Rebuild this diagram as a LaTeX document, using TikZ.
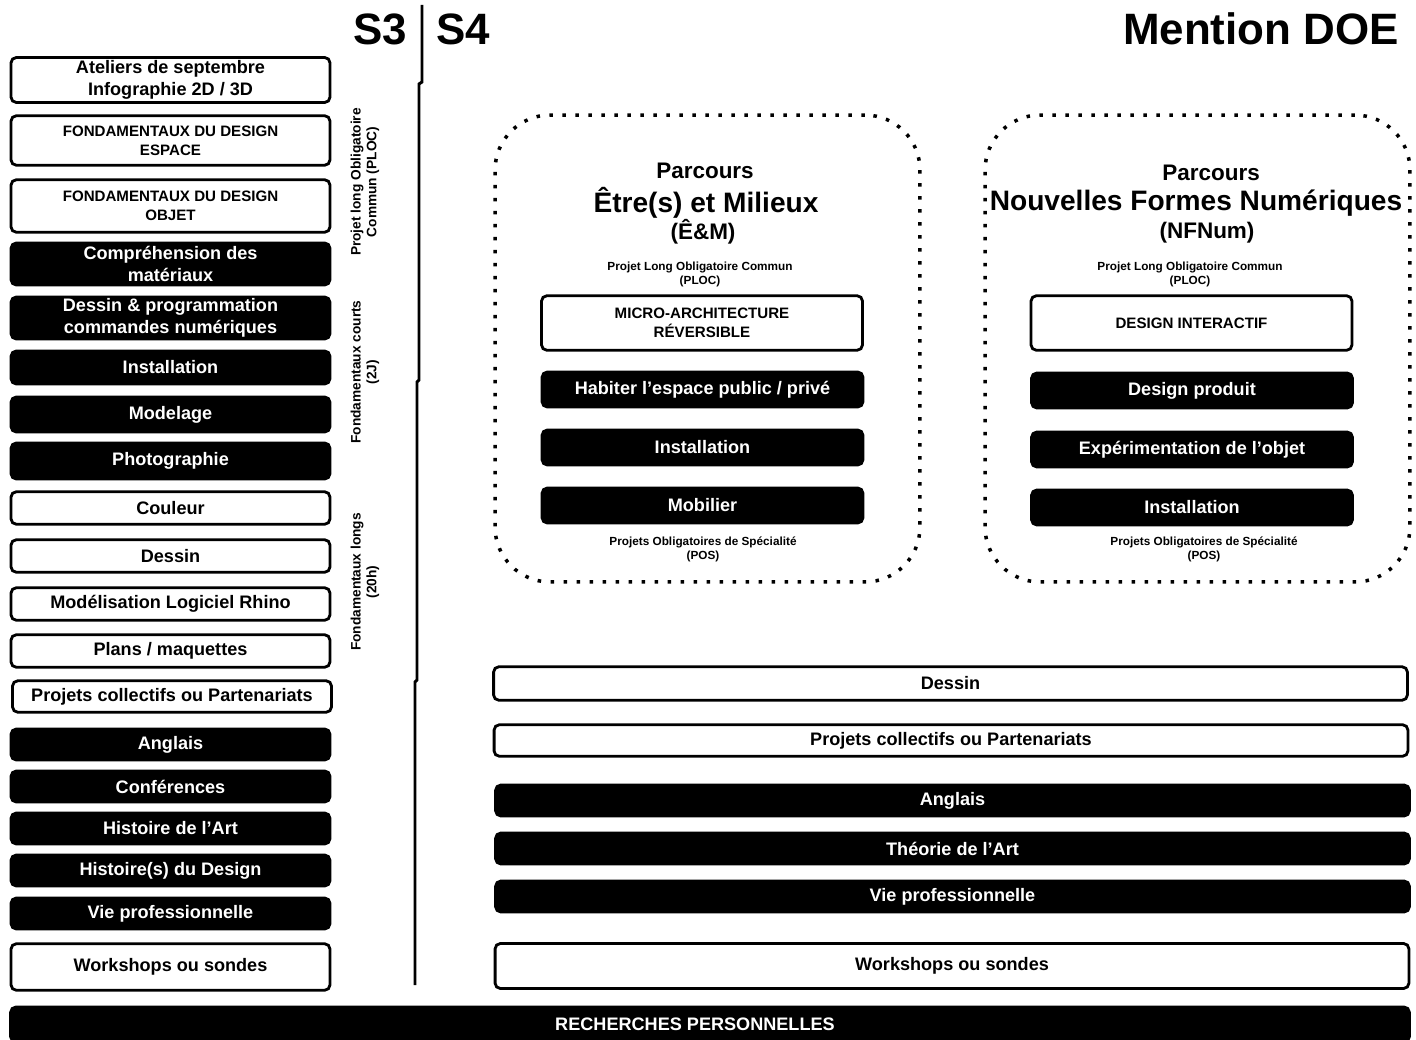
\documentclass[tikz,border=0pt]{standalone}
\usepackage{fontspec}
\setmainfont{Liberation Sans}

\begin{document}
\begin{tikzpicture} [x=0.02cm, y=-0.02cm,
    box/.style = {rounded corners=3pt, line width=1.6pt, align=center, inner sep=0pt,
                  font=\bfseries\fontsize{10.3}{12.2}\selectfont},
    openbox/.style = {box, draw, fill=white},
    fullbox/.style = {box, draw, fill=black, text=white},
    caps/.style = {font=\bfseries\fontsize{8.6}{10.8}\selectfont},
    left col/.style = {minimum width=6.38cm},
    track col/.style = {minimum width=6.42cm},
    wide col/.style = {minimum width=18.28cm},
    note/.style = {align=center, font=\bfseries\fontsize{6.7}{8}\selectfont},
    side/.style = {rotate=90, align=center, font=\bfseries\fontsize{7.8}{9}\selectfont},
    head/.style = {font=\bfseries\fontsize{25}{30}\selectfont},
    track/.style = {draw, line width=2pt, dash pattern=on 2pt off 5.4pt, rounded corners=1.1cm,
                    minimum width=8.5cm, minimum height=9.34cm},
    sub/.style = {font=\bfseries\fontsize{12.8}{15}\selectfont},
    big/.style = {font=\bfseries\fontsize{16}{18}\selectfont}]
        \useasboundingbox (0,0) rectangle (1416,1040);

        % en-tetes
        \node (s3) [head] at (380,29) {S3};
        \node (s4) [head] at (463,29) {S4};
        \node (doe) [head, anchor=east] at (1405,29) {Mention DOE};
        \draw [line width=1.7pt] (422,5) -- (422,82) -- (419,84) -- (419,380) -- (417,382)
              -- (417,680) -- (415,682) -- (415,985);

        % S3
        \node (atel) [openbox, left col, minimum height=0.9cm] at (170.5,80) {Ateliers de septembre\\Infographie 2D / 3D};
        \node (espace) [openbox, left col, caps, minimum height=0.99cm] at (170.5,140.5) {FONDAMENTAUX DU DESIGN\\ESPACE};
        \node (objet) [openbox, left col, caps, minimum height=1.05cm] at (170.5,206) {FONDAMENTAUX DU DESIGN\\OBJET};
        \node (mat) [fullbox, left col, minimum height=0.84cm] at (170.5,264) {Compréhension des\\matériaux};
        \node (prog) [fullbox, left col, minimum height=0.84cm] at (170.5,318) {Dessin \& programmation\\commandes numériques};
        \node (inst) [fullbox, left col, minimum height=0.66cm] at (170.5,367.5) {Installation};
        \node (mod) [fullbox, left col, minimum height=0.7cm] at (170.5,414.5) {Modelage};
        \node (photo) [fullbox, left col, minimum height=0.72cm] at (170.5,461) {Photographie};
        \node (coul) [openbox, left col, minimum height=0.65cm] at (170.5,508) {Couleur};
        \node (dess) [openbox, left col, minimum height=0.65cm] at (170.5,556) {Dessin};
        \node (rhino) [openbox, left col, minimum height=0.65cm] at (170.5,604) {Modélisation Logiciel Rhino};
        \node (plans) [openbox, left col, minimum height=0.65cm] at (170.5,651) {Plans / maquettes};
        \node (coll) [openbox, left col, minimum height=0.63cm] at (172,696.5) {Projets collectifs ou Partenariats};
        \node (angl) [fullbox, left col, minimum height=0.62cm] at (170.5,744.5) {Anglais};
        \node (conf) [fullbox, left col, minimum height=0.62cm] at (170.5,786.5) {Conférences};
        \node (hart) [fullbox, left col, minimum height=0.62cm] at (170.5,828.5) {Histoire de l'Art};
        \node (hdes) [fullbox, left col, minimum height=0.62cm] at (170.5,870.5) {Histoire(s) du Design};
        \node (viepro) [fullbox, left col, minimum height=0.62cm] at (170.5,913.5) {Vie professionnelle};
        \node (work) [openbox, left col, minimum height=0.93cm] at (170.5,967) {Workshops ou sondes};

        \node (ploc) [side] at (365,182) {Projet long Obligatoire\\Commun (PLOC)};
        \node (courts) [side] at (365,372) {Fondamentaux courts\\(2J)};
        \node (longs) [side] at (365,582) {Fondamentaux longs\\(20h)};

        % parcours Etre(s) et Milieux
        \node (em) [track] at (707.5,348.5) {};
        \node (em parc) [sub] at (705,171) {Parcours};
        \node (em name) [big] at (706,203) {Être(s) et Milieux};
        \node (em abbr) [sub] at (703,232) {(Ê\&M)};
        \node (em ploc) [note] at (700,274) {Projet Long Obligatoire Commun\\(PLOC)};
        \node (micro) [openbox, track col, caps, minimum height=1.09cm] at (702,323) {MICRO-ARCHITECTURE\\RÉVERSIBLE};
        \node (hab) [fullbox, track col, minimum height=0.7cm] at (702.5,389.5) {Habiter l'espace public / privé};
        \node (em inst) [fullbox, track col, minimum height=0.7cm] at (702.5,447.5) {Installation};
        \node (mob) [fullbox, track col, minimum height=0.7cm] at (702.5,505.5) {Mobilier};
        \node (em pos) [note] at (703,549) {Projets Obligatoires de Spécialité\\(POS)};

        % parcours Nouvelles Formes Numeriques
        \node (nf) [track] at (1197.5,348.5) {};
        \node (nf parc) [sub] at (1211,173) {Parcours};
        \node (nf name) [big] at (1196,203) {Nouvelles Formes Numériques};
        \node (nf abbr) [sub] at (1207,233) {(NFNum)};
        \node (nf ploc) [note] at (1190,274) {Projet Long Obligatoire Commun\\(PLOC)};
        \node (inter) [openbox, track col, caps, minimum height=1.09cm] at (1191.5,323) {DESIGN INTERACTIF};
        \node (prod) [fullbox, track col, minimum height=0.7cm] at (1192,390.5) {Design produit};
        \node (exp) [fullbox, track col, minimum height=0.7cm] at (1192,449.5) {Expérimentation de l'objet};
        \node (nf inst) [fullbox, track col, minimum height=0.7cm] at (1192,507.5) {Installation};
        \node (nf pos) [note] at (1204,549) {Projets Obligatoires de Spécialité\\(POS)};

        % S4 communs
        \node (s4 dess) [openbox, wide col, minimum height=0.67cm] at (950.5,683.5) {Dessin};
        \node (s4 coll) [openbox, wide col, minimum height=0.63cm] at (951,740.5) {Projets collectifs ou Partenariats};
        \node (s4 angl) [fullbox, wide col, minimum height=0.62cm] at (952.5,800.5) {Anglais};
        \node (theo) [fullbox, wide col, minimum height=0.62cm] at (952.5,848.5) {Théorie de l'Art};
        \node (s4 viepro) [fullbox, wide col, minimum height=0.62cm] at (952.5,896.5) {Vie professionnelle};
        \node (s4 work) [openbox, wide col, minimum height=0.9cm] at (952,966) {Workshops ou sondes};

        \node (rech) [fullbox, minimum width=27.98cm, minimum height=0.7cm] at (710,1024.5) {RECHERCHES PERSONNELLES\hspace*{0.6cm}};
    \end{tikzpicture}
\end{document}
